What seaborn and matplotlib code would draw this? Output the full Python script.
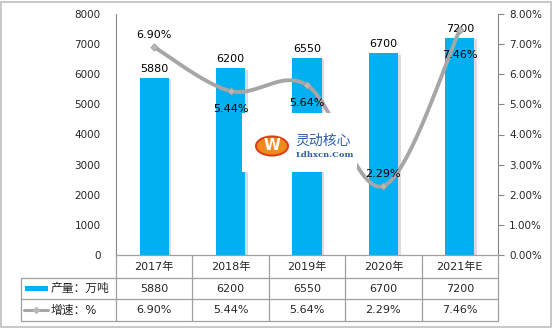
import numpy as np
import pandas as pd
import matplotlib
matplotlib.use("Agg")
import matplotlib.pyplot as plt
import matplotlib.patheffects as pe
from matplotlib.patches import Rectangle, Circle
from matplotlib.lines import Line2D
import matplotlib.transforms as mtrans
import seaborn as sns

categories = ["2017年", "2018年", "2019年", "2020年", "2021年E"]
output_vals = [5880, 6200, 6550, 6700, 7200]
growth_pct = [6.90, 5.44, 5.64, 2.29, 7.46]
growth_labels = ["6.90%", "5.44%", "5.64%", "2.29%", "7.46%"]
label_above = [True, False, False, True, False]
series_names = ["产量：万吨", "增速：%"]
left_ticks = list(range(0, 8001, 1000))
right_ticks = [0, 1, 2, 3, 4, 5, 6, 7, 8]

sns.set_theme(style="white")
plt.rcParams['font.family'] = ['DejaVu Sans', 'Noto Sans CJK SC']

W, H = 555, 330
fig = plt.figure(figsize=(W / 100, H / 100), dpi=100)
L, R, B, T = 116, 498, 255, 14
ax = fig.add_axes([L / W, 1 - B / H, (R - L) / W, (B - T) / H])

BAR = "#00B0F0"
LINE = "#A6A6A6"
GRID = "#A0A0A0"

df = pd.DataFrame({"cat": categories, "val": output_vals})
sns.barplot(data=df, x="cat", y="val", color=BAR, width=0.38, ax=ax,
            saturation=1, edgecolor="none")
for p in ax.patches:
    p.set_path_effects([pe.SimplePatchShadow(offset=(2, -1), shadow_rgbFace="#999999", alpha=0.35),
                        pe.Normal()])
ax.set_ylim(0, 8000)
ax.set_xlim(-0.5, 4.5)
ax.set_yticks(left_ticks)
ax.set_yticklabels([str(t) for t in left_ticks], fontsize=7.5)
ax.tick_params(axis="y", length=0, pad=11)
ax.set_xticks([])
ax.set_xlabel("")
ax.set_ylabel("")
for s in ["top", "right", "bottom"]:
    ax.spines[s].set_visible(False)
ax.spines["left"].set_color("#868686")
ax.spines["left"].set_linewidth(0.8)

for i, v in enumerate(output_vals):
    ax.annotate(str(v), (i, v), xytext=(0, 3), textcoords="offset points",
                ha="center", va="bottom", fontsize=8, color="black")

ax2 = ax.twinx()
ax2.set_ylim(0, 8)
ax2.set_yticks(right_ticks)
ax2.set_yticklabels([f"{t:.2f}%" for t in right_ticks], fontsize=7.5)
ax2.tick_params(axis="y", length=4, width=0.8, color="#868686", pad=4, direction="out")
for s in ["top", "left", "bottom"]:
    ax2.spines[s].set_visible(False)
ax2.spines["right"].set_color("#868686")
ax2.spines["right"].set_linewidth(0.8)
ax2.grid(False)
ax.grid(False)

# Excel-like smoothed line (Catmull-Rom Bezier in screen space)
sx = (R - L) / 5.0
sy = (B - T) / 8.0
P = np.array([[i * sx, g * sy] for i, g in enumerate(growth_pct)])
Pe = np.vstack([P[0], P, P[-1]])
curve = []
for k in range(len(P) - 1):
    p0, p1, p2, p3 = Pe[k], Pe[k + 1], Pe[k + 2], Pe[k + 3]
    c1 = p1 + (p2 - p0) / 6.0
    c2 = p2 - (p3 - p1) / 6.0
    t = np.linspace(0, 1, 40)[:, None]
    seg = (1 - t) ** 3 * p1 + 3 * (1 - t) ** 2 * t * c1 + 3 * (1 - t) * t ** 2 * c2 + t ** 3 * p2
    curve.append(seg if k == 0 else seg[1:])
curve = np.vstack(curve)
cdf = pd.DataFrame({"x": curve[:, 0] / sx, "y": curve[:, 1] / sy})
ax2.plot(cdf["x"], cdf["y"], color=LINE, lw=2.8, solid_capstyle="round", zorder=3)
ax2.scatter(range(len(growth_pct)), growth_pct, marker="D", s=14, color="#B8B8B8",
            edgecolor="#9A9A9A", linewidth=0.5, zorder=4)
for i, (g, lab, up) in enumerate(zip(growth_pct, growth_labels, label_above)):
    off = 9 if up else -13
    if i == 4:
        off = -18
    ax2.annotate(lab, (i, g), xytext=(0, off), textcoords="offset points",
                 ha="center", va="center", fontsize=8, color="black", zorder=5)

# Data table
blend = mtrans.blended_transform_factory(ax.transData, fig.transFigure)
def fy(py):
    return 1 - py / H
def fx(px):
    return px / W
rows = [255, 278, 299, 321]
TL = 21
lw = 0.9
# horizontal lines
fig.add_artist(Line2D([fx(L), fx(R)], [fy(rows[0])] * 2, color=GRID, lw=lw))
for r in rows[1:]:
    fig.add_artist(Line2D([fx(TL), fx(R)], [fy(r)] * 2, color=GRID, lw=lw))
# vertical lines
fig.add_artist(Line2D([fx(TL), fx(TL)], [fy(rows[1]), fy(rows[3])], color=GRID, lw=lw))
for i in range(6):
    xb = i - 0.5
    ax.add_artist(Line2D([xb, xb], [fy(rows[0]), fy(rows[3])], color=GRID, lw=lw,
                         transform=blend, clip_on=False))
for i, c in enumerate(categories):
    ax.text(i, fy((rows[0] + rows[1]) / 2), c, transform=blend, ha="center", va="center", fontsize=8)
    ax.text(i, fy((rows[1] + rows[2]) / 2), str(output_vals[i]), transform=blend,
            ha="center", va="center", fontsize=8)
    ax.text(i, fy((rows[2] + rows[3]) / 2), growth_labels[i], transform=blend,
            ha="center", va="center", fontsize=8)
# legend keys
ym1 = fy((rows[1] + rows[2]) / 2)
fig.patches.append(Rectangle((fx(25), ym1 - 2.5 / H), 23 / W, 5 / H, transform=fig.transFigure,
                             facecolor=BAR, edgecolor="none"))
fig.text(fx(51), ym1, series_names[0], ha="left", va="center", fontsize=8.5)
ym2 = fy((rows[2] + rows[3]) / 2)
fig.add_artist(Line2D([fx(24), fx(48)], [ym2, ym2], color=LINE, lw=2.2))
fig.add_artist(Line2D([fx(36)], [ym2], marker="D", markersize=3, color="#B8B8B8", lw=0))
fig.text(fx(51), ym2, series_names[1], ha="left", va="center", fontsize=8.5)

# watermark box
fig.patches.append(Rectangle((fx(242), fy(172)), 115 / W, 59 / H, transform=fig.transFigure,
                             facecolor="white", edgecolor="none", zorder=10))
fig.patches.append(Circle((fx(272), fy(146)), 16 / W, transform=fig.transFigure,
                          facecolor="#F08A1C", edgecolor="#D9401A", lw=1.5, zorder=11))
fig.text(fx(272), fy(146), "W", ha="center", va="center", fontsize=11, color="white",
         fontweight="bold", zorder=12)
fig.text(fx(295), fy(141), "灵动核心", ha="left", va="center", fontsize=10,
         color="#2F5FA8", family=["Noto Sans CJK SC"], zorder=12)
fig.text(fx(296), fy(155), "Ldhxcn.Com", ha="left", va="center", fontsize=6,
         color="#2F5FA8", family=["DejaVu Serif"], fontweight="bold", zorder=12)

# outer border
fig.patches.append(Rectangle((1 / W, 3 / H), 550 / W, 325 / H, transform=fig.transFigure,
                             facecolor="none", edgecolor="#BFBFBF", lw=1.2))

fig.savefig("out.png", dpi=100)
